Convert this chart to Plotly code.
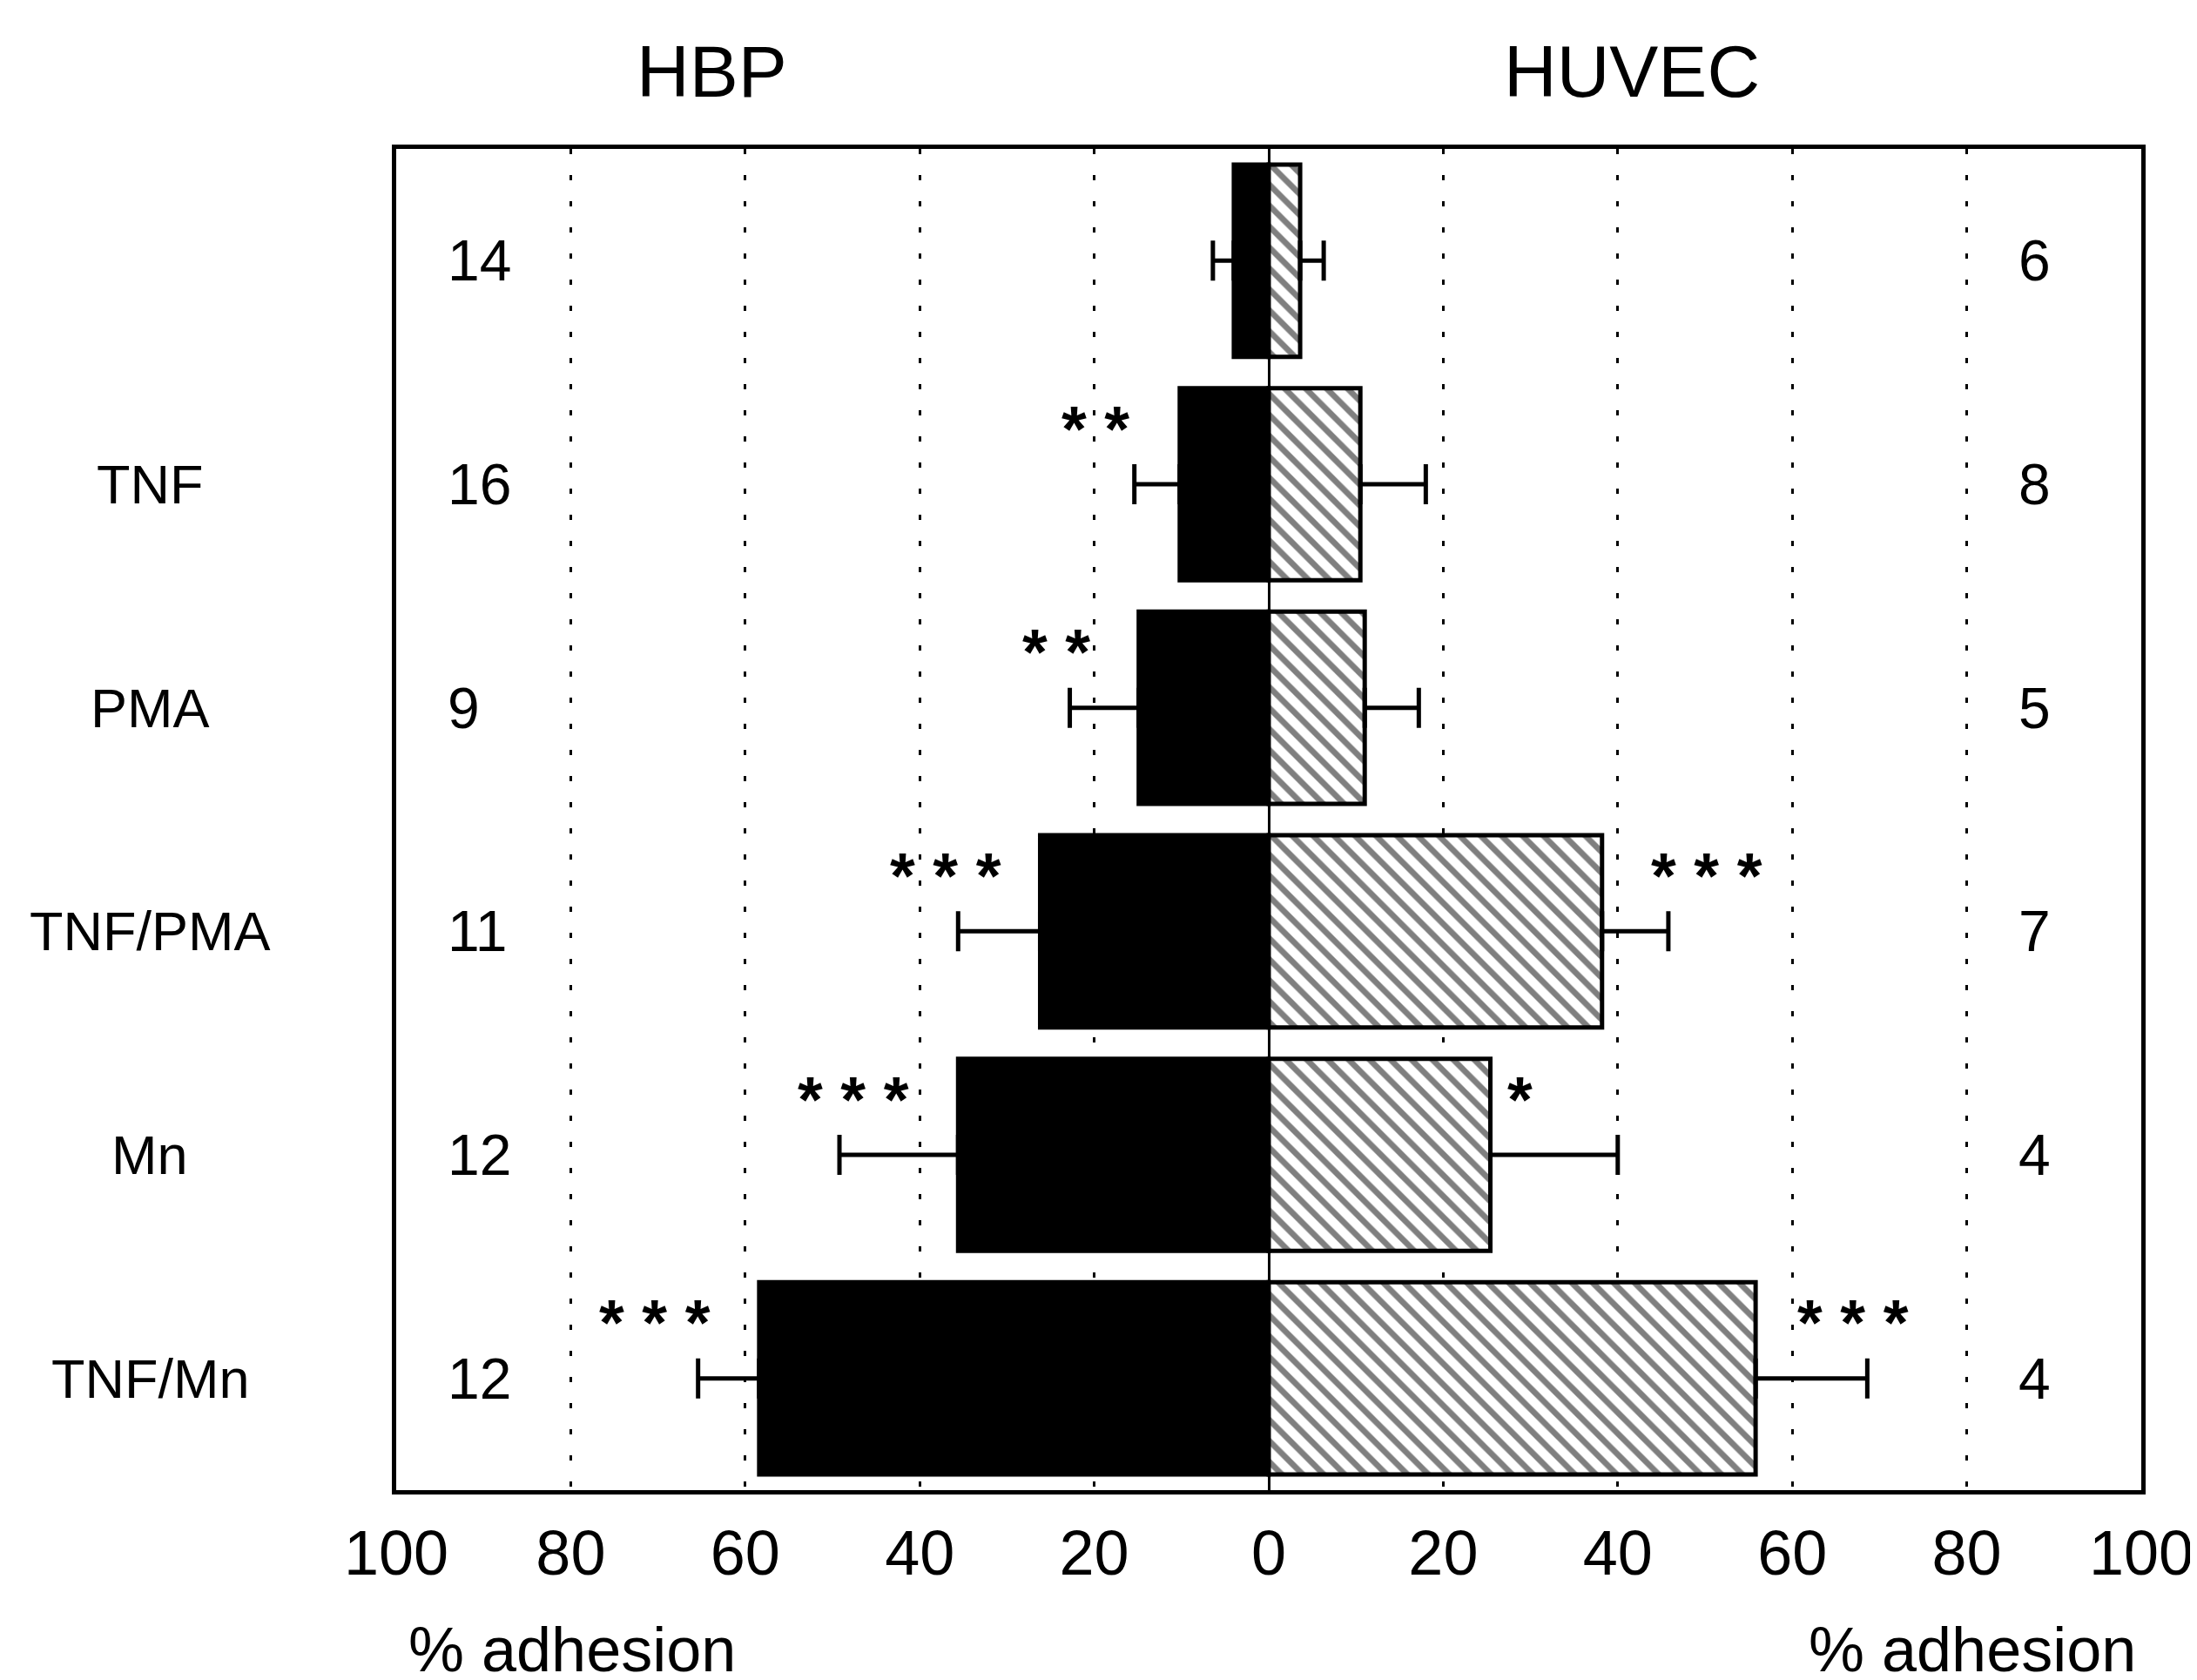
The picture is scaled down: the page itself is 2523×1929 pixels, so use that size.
import plotly.graph_objects as go

# ---- data ----
categories = ["Control", "TNF", "PMA", "TNF/PMA", "Mn", "TNF/Mn"]
category_labels = ["", "TNF", "PMA", "TNF/PMA", "Mn", "TNF/Mn"]
hbp_values = [4.0, 10.2, 14.9, 26.2, 35.6, 58.4]
hbp_errors = [2.4, 5.2, 7.9, 9.4, 13.6, 7.0]
huvec_values = [3.6, 10.5, 11.0, 38.2, 25.4, 55.8]
huvec_errors = [2.7, 7.5, 6.2, 7.6, 14.6, 12.8]
hbp_n = [14, 16, 9, 11, 12, 12]
huvec_n = [6, 8, 5, 7, 4, 4]
hbp_sig = ["", "* *", "* *", "* * *", "* * *", "* * *"]
huvec_sig = ["", "", "", "* * *", "*", "* * *"]
tick_vals = [-100, -80, -60, -40, -20, 0, 20, 40, 60, 80, 100]
tick_text = ["100", "80", "60", "40", "20", "0", "20", "40", "60", "80", "100"]

# label placement (data units along x) for significance marks
hbp_sig_x = [0, -19.9, -24.4, -37.0, -47.6, -70.4]
huvec_sig_x = [0, 0, 0, 50.2, 28.8, 67.0]

FONT = "Liberation Sans, Arial, Helvetica, sans-serif"

fig = go.Figure()

fig.add_trace(go.Bar(
    y=categories,
    x=[-v for v in hbp_values],
    orientation="h",
    width=0.86,
    marker=dict(color="black", line=dict(color="black", width=5)),
    error_x=dict(type="data", symmetric=False, array=[0] * len(hbp_errors),
                 arrayminus=hbp_errors, color="black", thickness=5, width=23),
    name="HBP",
    showlegend=False,
))

fig.add_trace(go.Bar(
    y=categories,
    x=huvec_values,
    orientation="h",
    width=0.86,
    marker=dict(color="white", line=dict(color="black", width=5),
                pattern=dict(shape="\\", fgcolor="black", bgcolor="white",
                             size=17, solidity=0.4)),
    error_x=dict(type="data", symmetric=False, array=huvec_errors,
                 arrayminus=[0] * len(huvec_errors), color="black", thickness=5, width=23),
    name="HUVEC",
    showlegend=False,
))

annotations = []
for cat, lab in zip(categories, category_labels):
    if lab:
        annotations.append(dict(x=-0.141, xref="paper", y=cat, yref="y", text=lab,
                                showarrow=False, xanchor="center", yanchor="middle",
                                font=dict(size=63, color="black", family=FONT)))
for cat, n in zip(categories, hbp_n):
    annotations.append(dict(x=-94.3, xref="x", y=cat, yref="y", text=str(n),
                            showarrow=False, xanchor="left", yanchor="middle",
                            font=dict(size=66, color="black", family=FONT)))
for cat, n in zip(categories, huvec_n):
    annotations.append(dict(x=85.7, xref="x", y=cat, yref="y", text=str(n),
                            showarrow=False, xanchor="left", yanchor="middle",
                            font=dict(size=66, color="black", family=FONT)))
for cat, s, sx in zip(categories, hbp_sig, hbp_sig_x):
    if s:
        annotations.append(dict(x=sx, xref="x", y=cat, yref="y", text="<b>" + s + "</b>",
                                yshift=64, showarrow=False, xanchor="center", yanchor="middle",
                                font=dict(size=74, color="black", family=FONT)))
for cat, s, sx in zip(categories, huvec_sig, huvec_sig_x):
    if s:
        annotations.append(dict(x=sx, xref="x", y=cat, yref="y", text="<b>" + s + "</b>",
                                yshift=64, showarrow=False, xanchor="center", yanchor="middle",
                                font=dict(size=74, color="black", family=FONT)))

annotations += [
    dict(x=0.181, y=1.0578, xref="paper", yref="paper", text="HBP", showarrow=False,
         xanchor="center", yanchor="middle", font=dict(size=84, color="black", family=FONT)),
    dict(x=0.708, y=1.0578, xref="paper", yref="paper", text="HUVEC", showarrow=False,
         xanchor="center", yanchor="middle", font=dict(size=84, color="black", family=FONT)),
    dict(x=0.1007, y=-0.1188, xref="paper", yref="paper", text="% adhesion", showarrow=False,
         xanchor="center", yanchor="middle", font=dict(size=72, color="black", family=FONT)),
    dict(x=0.9033, y=-0.1188, xref="paper", yref="paper", text="% adhesion", showarrow=False,
         xanchor="center", yanchor="middle", font=dict(size=72, color="black", family=FONT)),
]

fig.update_layout(
    width=2523, height=1929,
    margin=dict(l=447, r=70, t=163, b=226),
    paper_bgcolor="white", plot_bgcolor="white",
    barmode="overlay",
    annotations=annotations,
    font=dict(family=FONT, color="black"),
)

fig.update_xaxes(
    range=[-100, 100], tickvals=tick_vals, ticktext=tick_text,
    showgrid=True, gridcolor="black", gridwidth=3, griddash="6px,24px",
    zeroline=True, zerolinecolor="black", zerolinewidth=3,
    showline=True, linecolor="black", linewidth=5, mirror=True,
    ticks="", ticklabelstandoff=6,
    tickfont=dict(size=72, color="black", family=FONT),
)
fig.update_yaxes(
    type="category", categoryorder="array", categoryarray=categories,
    autorange="reversed",
    showticklabels=False, showgrid=False, zeroline=False,
    showline=True, linecolor="black", linewidth=5, mirror=True, ticks="",
)

fig.write_html("out.html")
